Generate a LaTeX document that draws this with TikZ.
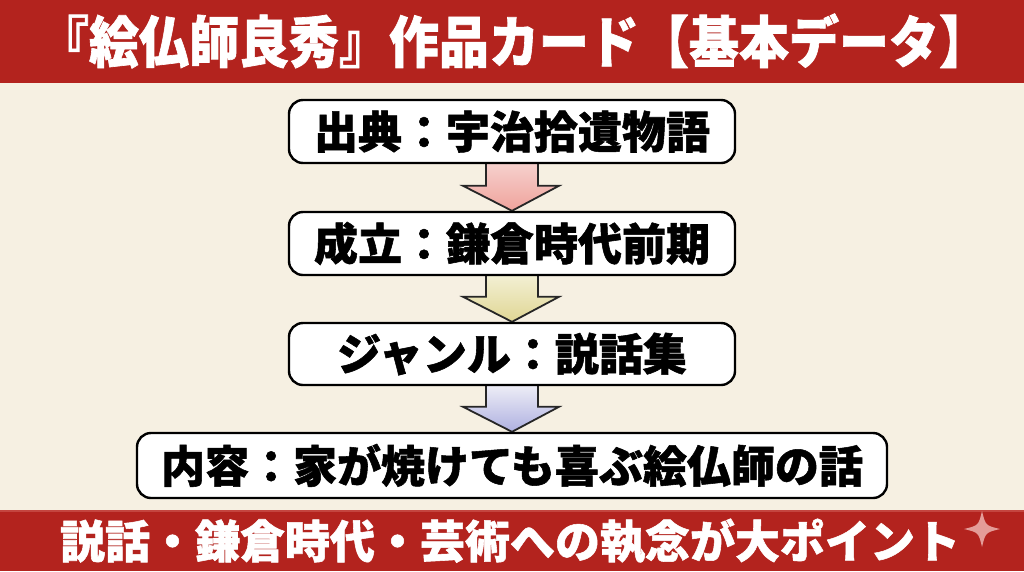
\documentclass[tikz,border=0pt]{standalone}
\usepackage{fontspec}
\usepackage{graphicx}
\newfontfamily\jp{Noto Sans CJK JP}[BoldFeatures={FakeBold=1.2}]
\usetikzlibrary{calc}
\pgfdeclarelayer{bg}
\pgfsetlayers{bg,main}
\definecolor{paper}{HTML}{F6F0E2}
\definecolor{band}{HTML}{B3231E}
\definecolor{bandline}{HTML}{C4453F}
\definecolor{arrowline}{HTML}{262626}
\definecolor{pinkA}{HTML}{F6D0CC}
\definecolor{pinkB}{HTML}{EFA29C}
\definecolor{yelA}{HTML}{F2EFD2}
\definecolor{yelB}{HTML}{E0D694}
\definecolor{lavA}{HTML}{ECECF6}
\definecolor{lavB}{HTML}{AEB0E0}
\definecolor{starpink}{HTML}{E49C98}
\newcommand\flowarrow[4]{%
  \begin{pgfonlayer}{bg}
  \path[draw=arrowline, line width=1.8pt, line join=miter, top color=#3, bottom color=#4]
    ($(#1.south)+(-26,0)$) -- ($(#2.north)+(-26,-25)$) -- ($(#2.north)+(-49,-25)$)
    -- (#2.north) -- ($(#2.north)+(47,-25)$) -- ($(#2.north)+(26,-25)$)
    -- ($(#1.south)+(26,0)$);
  \end{pgfonlayer}}
\begin{document}
\begin{tikzpicture}[x=1pt,y=-1pt,
  card/.style={draw=black, line width=2.4pt, fill=white, rounded corners=14pt,
    inner sep=0pt, text=black, font=\jp\bfseries\fontsize{44}{44}\selectfont},
  bandtext/.style={text=white, inner sep=0pt, font=\jp\bfseries\fontsize{#1}{#1}\selectfont}]
\useasboundingbox (0,0) rectangle (1024,571);
\begin{pgfonlayer}{bg}
\fill[paper] (0,0) rectangle (1024,571);
\end{pgfonlayer}
\fill[band] (0,0) rectangle (1024,83);
\fill[band] (0,510) rectangle (1024,571);
\fill[bandline] (0,510) rectangle (1024,512);
\node[bandtext=50] (title) at (514,41) {\scalebox{1}[1.12]{『絵仏師良秀』作品カード【基本データ】}};
\node[card, minimum width=446pt, minimum height=63pt] (b1) at (512,131.5) {出典：宇治拾遺物語};
\node[card, minimum width=446pt, minimum height=63pt] (b2) at (512,243.5) {成立：鎌倉時代前期};
\node[card, minimum width=446pt, minimum height=62pt] (b3) at (512,354) {ジャンル：説話集};
\node[card, minimum width=750pt, minimum height=65pt] (b4) at (512,465.5) {内容：家が焼けても喜ぶ絵仏師の話};
\flowarrow{b1}{b2}{pinkA}{pinkB}
\flowarrow{b2}{b3}{yelA}{yelB}
\flowarrow{b3}{b4}{lavA}{lavB}
\node[bandtext=45] (foot) at (510,541) {説話・鎌倉時代・芸術への執念が大ポイント};
\fill[starpink] (982,511) .. controls (985.5,525.5) .. (1000,529) .. controls (985.5,532.5) .. (982,547)
  .. controls (978.5,532.5) .. (964,529) .. controls (978.5,525.5) .. cycle;
\end{tikzpicture}
\end{document}
